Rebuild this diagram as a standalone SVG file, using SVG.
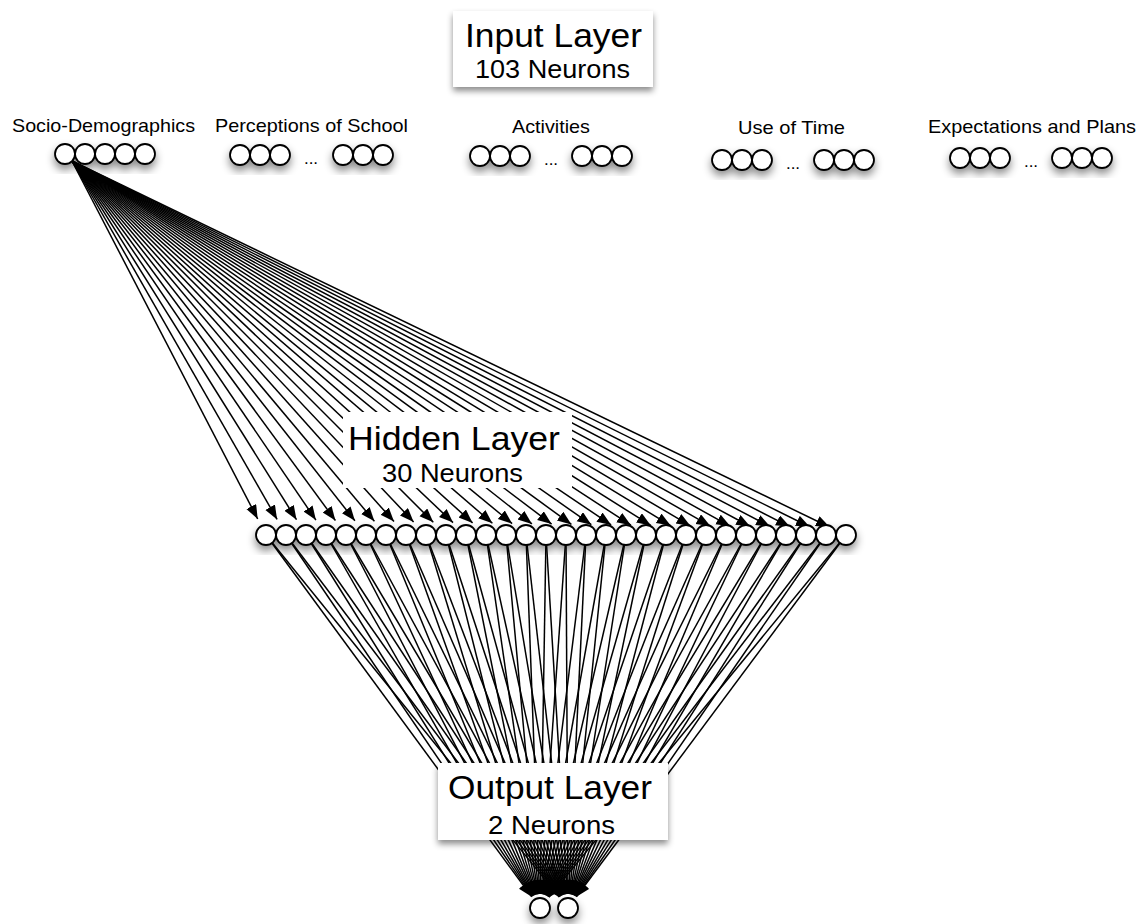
<svg xmlns="http://www.w3.org/2000/svg" width="1147" height="924" viewBox="0 0 1147 924">
<style>
.bg{fill:#ffffff}
.n{fill:#ffffff;stroke:#000000;stroke-width:1.8}
.c{stroke:#000000;stroke-width:1.5;fill:none;marker-end:url(#ah)}
.box{fill:#ffffff}
.t1{font-family:"Liberation Sans",Arial,sans-serif;font-size:34px;fill:#000000}
.t2{font-family:"Liberation Sans",Arial,sans-serif;font-size:25px;fill:#000000}
.lbl{font-family:"Liberation Sans",Arial,sans-serif;font-size:19px;fill:#000000}
.dots{font-family:"Liberation Sans",Arial,sans-serif;font-size:17px;fill:#000000}
</style>
<defs>
<marker id="ah" markerUnits="userSpaceOnUse" markerWidth="15" markerHeight="12" viewBox="0 0 15 12" refX="14" refY="5.5" orient="auto"><path d="M0,0 L14,5.5 L0,11 z" fill="#000000"/></marker>
<filter id="sh" x="-20%" y="-30%" width="140%" height="180%"><feDropShadow dx="0" dy="5" stdDeviation="4" flood-color="#000000" flood-opacity="0.45"/></filter>
<filter id="bsh" x="-10%" y="-20%" width="120%" height="150%"><feDropShadow dx="0" dy="4" stdDeviation="3" flood-color="#000000" flood-opacity="0.45"/></filter>
</defs>
<rect class="bg" x="0" y="0" width="1147" height="924"/>

<g id="connectors">
<g id="input-to-hidden">
<line class="c" x1="72" y1="161" x2="257.7" y2="519.0"/>
<line class="c" x1="72" y1="161" x2="277.1" y2="519.4"/>
<line class="c" x1="72" y1="161" x2="296.5" y2="519.7"/>
<line class="c" x1="72" y1="161" x2="315.9" y2="520.1"/>
<line class="c" x1="72" y1="161" x2="335.4" y2="520.5"/>
<line class="c" x1="72" y1="161" x2="354.9" y2="520.8"/>
<line class="c" x1="72" y1="161" x2="374.4" y2="521.2"/>
<line class="c" x1="72" y1="161" x2="394.0" y2="521.6"/>
<line class="c" x1="72" y1="161" x2="413.6" y2="521.9"/>
<line class="c" x1="72" y1="161" x2="433.3" y2="522.3"/>
<line class="c" x1="72" y1="161" x2="453.0" y2="522.6"/>
<line class="c" x1="72" y1="161" x2="472.6" y2="522.9"/>
<line class="c" x1="72" y1="161" x2="492.4" y2="523.3"/>
<line class="c" x1="72" y1="161" x2="512.1" y2="523.6"/>
<line class="c" x1="72" y1="161" x2="531.9" y2="523.9"/>
<line class="c" x1="72" y1="161" x2="551.6" y2="524.1"/>
<line class="c" x1="72" y1="161" x2="571.4" y2="524.4"/>
<line class="c" x1="72" y1="161" x2="591.3" y2="524.7"/>
<line class="c" x1="72" y1="161" x2="611.1" y2="524.9"/>
<line class="c" x1="72" y1="161" x2="630.9" y2="525.2"/>
<line class="c" x1="72" y1="161" x2="650.8" y2="525.4"/>
<line class="c" x1="72" y1="161" x2="670.6" y2="525.6"/>
<line class="c" x1="72" y1="161" x2="690.5" y2="525.9"/>
<line class="c" x1="72" y1="161" x2="710.4" y2="526.1"/>
<line class="c" x1="72" y1="161" x2="730.3" y2="526.3"/>
<line class="c" x1="72" y1="161" x2="750.2" y2="526.5"/>
<line class="c" x1="72" y1="161" x2="770.1" y2="526.6"/>
<line class="c" x1="72" y1="161" x2="790.0" y2="526.8"/>
<line class="c" x1="72" y1="161" x2="809.9" y2="527.0"/>
<line class="c" x1="72" y1="161" x2="829.8" y2="527.2"/>
</g>
<g id="hidden-to-output">
<line class="c" x1="266" y1="535" x2="531.7" y2="896.7"/>
<line class="c" x1="286" y1="535" x2="532.1" y2="896.4"/>
<line class="c" x1="306" y1="535" x2="532.6" y2="896.1"/>
<line class="c" x1="326" y1="535" x2="533.0" y2="895.9"/>
<line class="c" x1="346" y1="535" x2="533.5" y2="895.6"/>
<line class="c" x1="366" y1="535" x2="534.1" y2="895.3"/>
<line class="c" x1="386" y1="535" x2="534.7" y2="895.1"/>
<line class="c" x1="406" y1="535" x2="535.3" y2="894.8"/>
<line class="c" x1="426" y1="535" x2="535.9" y2="894.6"/>
<line class="c" x1="446" y1="535" x2="536.6" y2="894.4"/>
<line class="c" x1="466" y1="535" x2="537.3" y2="894.3"/>
<line class="c" x1="486" y1="535" x2="538.0" y2="894.1"/>
<line class="c" x1="506" y1="535" x2="538.7" y2="894.1"/>
<line class="c" x1="526" y1="535" x2="539.5" y2="894.0"/>
<line class="c" x1="546" y1="535" x2="540.2" y2="894.0"/>
<line class="c" x1="566" y1="535" x2="541.0" y2="894.0"/>
<line class="c" x1="586" y1="535" x2="541.7" y2="894.1"/>
<line class="c" x1="606" y1="535" x2="542.4" y2="894.2"/>
<line class="c" x1="626" y1="535" x2="543.1" y2="894.4"/>
<line class="c" x1="646" y1="535" x2="543.8" y2="894.5"/>
<line class="c" x1="666" y1="535" x2="544.5" y2="894.7"/>
<line class="c" x1="686" y1="535" x2="545.1" y2="895.0"/>
<line class="c" x1="706" y1="535" x2="545.7" y2="895.2"/>
<line class="c" x1="726" y1="535" x2="546.2" y2="895.5"/>
<line class="c" x1="746" y1="535" x2="546.8" y2="895.7"/>
<line class="c" x1="766" y1="535" x2="547.3" y2="896.0"/>
<line class="c" x1="786" y1="535" x2="547.7" y2="896.3"/>
<line class="c" x1="806" y1="535" x2="548.1" y2="896.6"/>
<line class="c" x1="826" y1="535" x2="548.5" y2="896.9"/>
<line class="c" x1="846" y1="535" x2="548.9" y2="897.2"/>
<line class="c" x1="266" y1="535" x2="559.2" y2="897.1"/>
<line class="c" x1="286" y1="535" x2="559.6" y2="896.8"/>
<line class="c" x1="306" y1="535" x2="560.0" y2="896.5"/>
<line class="c" x1="326" y1="535" x2="560.4" y2="896.3"/>
<line class="c" x1="346" y1="535" x2="560.8" y2="896.0"/>
<line class="c" x1="366" y1="535" x2="561.3" y2="895.7"/>
<line class="c" x1="386" y1="535" x2="561.9" y2="895.4"/>
<line class="c" x1="406" y1="535" x2="562.4" y2="895.2"/>
<line class="c" x1="426" y1="535" x2="563.0" y2="894.9"/>
<line class="c" x1="446" y1="535" x2="563.6" y2="894.7"/>
<line class="c" x1="466" y1="535" x2="564.3" y2="894.5"/>
<line class="c" x1="486" y1="535" x2="565.0" y2="894.3"/>
<line class="c" x1="506" y1="535" x2="565.7" y2="894.2"/>
<line class="c" x1="526" y1="535" x2="566.4" y2="894.1"/>
<line class="c" x1="546" y1="535" x2="567.2" y2="894.0"/>
<line class="c" x1="566" y1="535" x2="567.9" y2="894.0"/>
<line class="c" x1="586" y1="535" x2="568.7" y2="894.0"/>
<line class="c" x1="606" y1="535" x2="569.4" y2="894.1"/>
<line class="c" x1="626" y1="535" x2="570.2" y2="894.2"/>
<line class="c" x1="646" y1="535" x2="570.9" y2="894.3"/>
<line class="c" x1="666" y1="535" x2="571.6" y2="894.5"/>
<line class="c" x1="686" y1="535" x2="572.2" y2="894.7"/>
<line class="c" x1="706" y1="535" x2="572.9" y2="894.9"/>
<line class="c" x1="726" y1="535" x2="573.5" y2="895.1"/>
<line class="c" x1="746" y1="535" x2="574.0" y2="895.4"/>
<line class="c" x1="766" y1="535" x2="574.6" y2="895.6"/>
<line class="c" x1="786" y1="535" x2="575.1" y2="895.9"/>
<line class="c" x1="806" y1="535" x2="575.5" y2="896.2"/>
<line class="c" x1="826" y1="535" x2="576.0" y2="896.5"/>
<line class="c" x1="846" y1="535" x2="576.4" y2="896.8"/>
</g>
</g>

<g id="input-layer-label">
<rect class="box" x="453" y="11" width="200" height="76" filter="url(#bsh)"/>
<text class="t1" x="465" y="47" textLength="177" lengthAdjust="spacingAndGlyphs">Input Layer</text>
<text class="t2" x="475" y="78" textLength="155" lengthAdjust="spacingAndGlyphs">103 Neurons</text>
</g>

<g id="socio-demographics">
<text class="lbl" x="12" y="132" textLength="183" lengthAdjust="spacingAndGlyphs">Socio-Demographics</text>
<g filter="url(#sh)">
<circle class="n" cx="65" cy="154" r="10"/>
<circle class="n" cx="85" cy="154" r="10"/>
<circle class="n" cx="105" cy="154" r="10"/>
<circle class="n" cx="125" cy="154" r="10"/>
<circle class="n" cx="145" cy="154" r="10"/>
</g>
</g>

<g id="perceptions-of-school">
<text class="lbl" x="215" y="132" textLength="193" lengthAdjust="spacingAndGlyphs">Perceptions of School</text>
<g filter="url(#sh)">
<circle class="n" cx="240" cy="155" r="10"/>
<circle class="n" cx="260" cy="155" r="10"/>
<circle class="n" cx="280" cy="155" r="10"/>
<circle class="n" cx="343" cy="155" r="10"/>
<circle class="n" cx="363" cy="155" r="10"/>
<circle class="n" cx="383" cy="155" r="10"/>
</g>
<text class="dots" x="311" y="164" text-anchor="middle">...</text>
</g>

<g id="activities">
<text class="lbl" x="512" y="133" textLength="78" lengthAdjust="spacingAndGlyphs">Activities</text>
<g filter="url(#sh)">
<circle class="n" cx="480" cy="156" r="10"/>
<circle class="n" cx="500" cy="156" r="10"/>
<circle class="n" cx="520" cy="156" r="10"/>
<circle class="n" cx="582" cy="156" r="10"/>
<circle class="n" cx="602" cy="156" r="10"/>
<circle class="n" cx="622" cy="156" r="10"/>
</g>
<text class="dots" x="551" y="165" text-anchor="middle">...</text>
</g>

<g id="use-of-time">
<text class="lbl" x="738" y="134" textLength="107" lengthAdjust="spacingAndGlyphs">Use of Time</text>
<g filter="url(#sh)">
<circle class="n" cx="722" cy="160" r="10"/>
<circle class="n" cx="742" cy="160" r="10"/>
<circle class="n" cx="762" cy="160" r="10"/>
<circle class="n" cx="824" cy="160" r="10"/>
<circle class="n" cx="844" cy="160" r="10"/>
<circle class="n" cx="864" cy="160" r="10"/>
</g>
<text class="dots" x="793" y="169" text-anchor="middle">...</text>
</g>

<g id="expectations-and-plans">
<text class="lbl" x="928" y="133" textLength="208" lengthAdjust="spacingAndGlyphs">Expectations and Plans</text>
<g filter="url(#sh)">
<circle class="n" cx="960" cy="158" r="10"/>
<circle class="n" cx="980" cy="158" r="10"/>
<circle class="n" cx="1000" cy="158" r="10"/>
<circle class="n" cx="1062" cy="158" r="10"/>
<circle class="n" cx="1082" cy="158" r="10"/>
<circle class="n" cx="1102" cy="158" r="10"/>
</g>
<text class="dots" x="1031" y="167" text-anchor="middle">...</text>
</g>

<g id="hidden-layer">
<g filter="url(#sh)">
<circle class="n" cx="266" cy="535" r="10"/>
<circle class="n" cx="286" cy="535" r="10"/>
<circle class="n" cx="306" cy="535" r="10"/>
<circle class="n" cx="326" cy="535" r="10"/>
<circle class="n" cx="346" cy="535" r="10"/>
<circle class="n" cx="366" cy="535" r="10"/>
<circle class="n" cx="386" cy="535" r="10"/>
<circle class="n" cx="406" cy="535" r="10"/>
<circle class="n" cx="426" cy="535" r="10"/>
<circle class="n" cx="446" cy="535" r="10"/>
<circle class="n" cx="466" cy="535" r="10"/>
<circle class="n" cx="486" cy="535" r="10"/>
<circle class="n" cx="506" cy="535" r="10"/>
<circle class="n" cx="526" cy="535" r="10"/>
<circle class="n" cx="546" cy="535" r="10"/>
<circle class="n" cx="566" cy="535" r="10"/>
<circle class="n" cx="586" cy="535" r="10"/>
<circle class="n" cx="606" cy="535" r="10"/>
<circle class="n" cx="626" cy="535" r="10"/>
<circle class="n" cx="646" cy="535" r="10"/>
<circle class="n" cx="666" cy="535" r="10"/>
<circle class="n" cx="686" cy="535" r="10"/>
<circle class="n" cx="706" cy="535" r="10"/>
<circle class="n" cx="726" cy="535" r="10"/>
<circle class="n" cx="746" cy="535" r="10"/>
<circle class="n" cx="766" cy="535" r="10"/>
<circle class="n" cx="786" cy="535" r="10"/>
<circle class="n" cx="806" cy="535" r="10"/>
<circle class="n" cx="826" cy="535" r="10"/>
<circle class="n" cx="846" cy="535" r="10"/>
</g>
<rect class="box" x="343" y="412" width="229" height="76"/>
<text class="t1" x="348" y="450" textLength="212" lengthAdjust="spacingAndGlyphs">Hidden Layer</text>
<text class="t2" x="382" y="482" textLength="141" lengthAdjust="spacingAndGlyphs">30 Neurons</text>
</g>

<g id="output-layer">
<rect class="box" x="438" y="763" width="230" height="77" filter="url(#bsh)"/>
<text class="t1" x="448" y="799" textLength="204" lengthAdjust="spacingAndGlyphs">Output Layer</text>
<text class="t2" x="488" y="834" textLength="127" lengthAdjust="spacingAndGlyphs">2 Neurons</text>
<g filter="url(#sh)">
<circle class="n" cx="540" cy="908" r="10"/>
<circle class="n" cx="568" cy="908" r="10"/>
</g>
</g>
</svg>
